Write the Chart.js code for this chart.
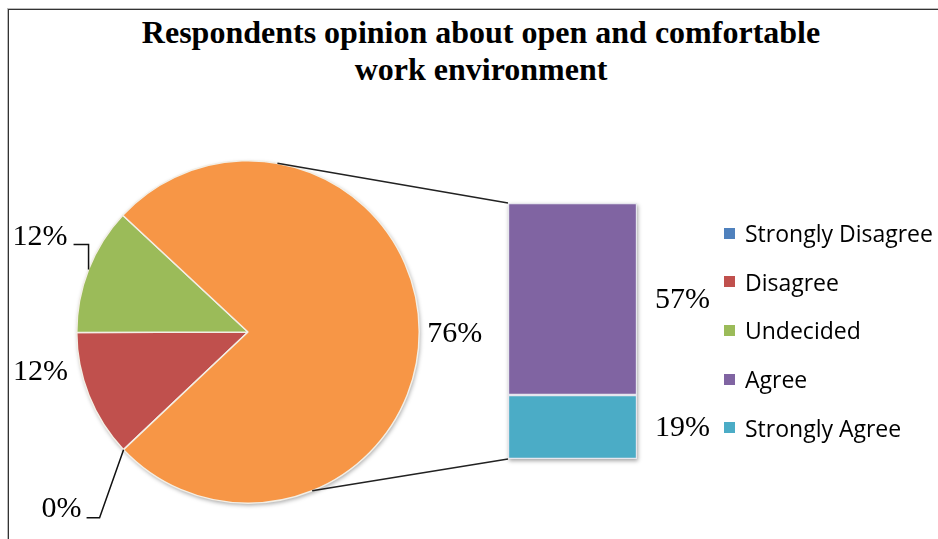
<!DOCTYPE html>
<html>
<head>
<meta charset="utf-8">
<script src="https://cdn.jsdelivr.net/npm/chart.js@4.4.0/dist/chart.umd.min.js"></script>
<style>
  html, body { margin: 0; padding: 0; background: #fff; }
  body { width: 938px; height: 539px; position: relative; overflow: hidden; }
  #frame { position: absolute; left: 8px; top: 9px; width: 1000px; height: 600px; border-left: 1px solid #333; border-top: 1px solid #333; box-shadow: -1px -1px 0 #bbb; }
  #title { position: absolute; left: 0; top: 14px; width: 962px; text-align: center; font: bold 32px "Liberation Serif", serif; line-height: 37px; color: #000; }
  canvas { position: absolute; left: 0; top: 0; }
  #legend { position: absolute; left: 724px; top: 0; font: 23px "Open Sans", sans-serif; color: #000; }
  .item { position: absolute; left: 0; height: 28px; display: flex; align-items: center; white-space: nowrap; }
  .sw { width: 11px; height: 11px; margin-right: 10px; }
</style>
</head>
<body>
<div id="frame"></div>
<div id="title">Respondents opinion about open and comfortable<br>work environment</div>
<canvas id="pie" width="938" height="539"></canvas>
<canvas id="bar" width="938" height="539"></canvas>
<div id="legend"></div>
<script>
var categories = ['Strongly Disagree', 'Disagree', 'Undecided', 'Agree', 'Strongly Agree'];
var shares = [0, 12, 12, 57, 19];
var sliceColors = ['#4F81BD', '#C0504D', '#9BBB59', '#8064A2', '#4BACC6'];
var otherColor = '#F79646';
var secondPlotCount = 2; // last two values are split out into the bar

function sum(arr) {
  return arr.reduce(function (a, b) { return a + b; }, 0);
}

var firstCount = categories.length - secondPlotCount;
var barLabels = categories.slice(firstCount);
var barValues = shares.slice(firstCount);
var barColors = sliceColors.slice(firstCount);
var pieLabels = categories.slice(0, firstCount).concat(['Other']);
var pieValues = shares.slice(0, firstCount).concat([sum(barValues)]);
var pieColors = sliceColors.slice(0, firstCount).concat([otherColor]);

// label placement relative to the point on the rim at each slice's mid angle
var pieLabelStyle = [
  { leader: [[0, 0], [-24, 68], [-37, 68]], text: [-42, 67], align: 'right' },
  { leader: null, text: [-21, -16], align: 'right' },
  { leader: [[0, 0], [0, -25], [-15, -25]], text: [-21, -25], align: 'right' },
  { leader: null, text: [8, 11], align: 'left' }
];
var labelFont = '30px "Liberation Serif", serif';

// legend
var legend = document.getElementById('legend');
categories.forEach(function (name, i) {
  var item = document.createElement('div');
  item.className = 'item';
  item.style.top = (233 + i * 48.7 - 14) + 'px';
  item.innerHTML = '<span class="sw" style="background:' + sliceColors[i] + '"></span>' + name;
  legend.appendChild(item);
});

var pieShadow = {
  id: 'pieShadow',
  beforeDatasetsDraw: function (chart) {
    var a = chart.getDatasetMeta(0).data[0];
    var ctx = chart.ctx;
    ctx.save();
    ctx.shadowColor = 'rgba(0,0,0,0.35)';
    ctx.shadowBlur = 4;
    ctx.shadowOffsetX = 1;
    ctx.shadowOffsetY = 2;
    ctx.fillStyle = '#ccc';
    ctx.beginPath();
    ctx.arc(a.x, a.y, a.outerRadius, 0, Math.PI * 2);
    ctx.fill();
    ctx.restore();
  }
};

var pieValueLabels = {
  id: 'pieValueLabels',
  afterDatasetsDraw: function (chart) {
    var ctx = chart.ctx;
    var arcs = chart.getDatasetMeta(0).data;
    ctx.save();
    ctx.font = labelFont;
    ctx.fillStyle = '#000';
    ctx.strokeStyle = '#111';
    ctx.lineWidth = 1.5;
    ctx.textBaseline = 'alphabetic';
    arcs.forEach(function (arc, i) {
      var st = pieLabelStyle[i];
      var mid = (arc.startAngle + arc.endAngle) / 2;
      var px = arc.x + arc.outerRadius * Math.cos(mid);
      var py = arc.y + arc.outerRadius * Math.sin(mid);
      if (st.leader) {
        ctx.beginPath();
        st.leader.forEach(function (p, k) {
          if (k === 0) ctx.moveTo(px + p[0], py + p[1]);
          else ctx.lineTo(px + p[0], py + p[1]);
        });
        ctx.stroke();
      }
      ctx.textAlign = st.align;
      ctx.fillText(pieValues[i] + '%', px + st.text[0], py + st.text[1]);
    });
    ctx.restore();
  }
};

var pieChart = new Chart(document.getElementById('pie'), {
  type: 'pie',
  data: {
    labels: pieLabels,
    datasets: [{
      data: pieValues,
      backgroundColor: pieColors,
      borderColor: '#f3efe6',
      borderWidth: 1.5,
      hoverOffset: 0
    }]
  },
  options: {
    responsive: false,
    animation: false,
    events: [],
    rotation: 226.6,
    layout: { padding: { left: 76, top: 160, right: 518, bottom: 35 } },
    plugins: { legend: { display: false }, tooltip: { enabled: false } }
  },
  plugins: [pieShadow, pieValueLabels]
});

// bottom segment first so it stacks underneath
var stackOrder = barLabels.map(function (_, i) { return i; }).reverse();

var barExtras = {
  id: 'barExtras',
  beforeDatasetsDraw: function (chart) {
    var ctx = chart.ctx;
    var area = chart.chartArea;
    ctx.save();
    ctx.shadowColor = 'rgba(0,0,0,0.35)';
    ctx.shadowBlur = 4;
    ctx.shadowOffsetX = 1;
    ctx.shadowOffsetY = 2;
    ctx.fillStyle = '#ddd';
    ctx.fillRect(area.left, area.top, area.right - area.left, area.bottom - area.top);
    ctx.restore();
  },
  afterDatasetsDraw: function (chart) {
    var ctx = chart.ctx;
    ctx.save();
    // connectors from the pie rim to the bar corners
    var arc = pieChart.getDatasetMeta(0).data[0];
    var topBar = chart.getDatasetMeta(stackOrder.length - 1).data[0];
    var bottomBar = chart.getDatasetMeta(0).data[0];
    var topAng = -80.1 * Math.PI / 180;
    var botAng = 68 * Math.PI / 180;
    ctx.strokeStyle = '#222';
    ctx.lineWidth = 1.5;
    ctx.beginPath();
    ctx.moveTo(arc.x + arc.outerRadius * Math.cos(topAng), arc.y + arc.outerRadius * Math.sin(topAng));
    ctx.lineTo(topBar.x - topBar.width / 2, topBar.y);
    ctx.moveTo(arc.x + arc.outerRadius * Math.cos(botAng), arc.y + arc.outerRadius * Math.sin(botAng));
    ctx.lineTo(bottomBar.x - bottomBar.width / 2, bottomBar.base);
    ctx.stroke();
    // value labels
    ctx.font = labelFont;
    ctx.fillStyle = '#000';
    ctx.textAlign = 'left';
    ctx.textBaseline = 'middle';
    chart.data.datasets.forEach(function (ds, d) {
      var el = chart.getDatasetMeta(d).data[0];
      ctx.fillText(ds.data[0] + '%', el.x + el.width / 2 + 18, (el.y + el.base) / 2 + 1);
    });
    ctx.restore();
  }
};

var barChart = new Chart(document.getElementById('bar'), {
  type: 'bar',
  data: {
    labels: [''],
    datasets: stackOrder.map(function (i) {
      return {
        label: barLabels[i],
        data: [barValues[i]],
        backgroundColor: barColors[i],
        borderColor: '#e6e6ee',
        borderWidth: 1.5,
        borderSkipped: false,
        barPercentage: 1,
        categoryPercentage: 1
      };
    })
  },
  options: {
    responsive: false,
    animation: false,
    events: [],
    layout: { padding: { left: 508, top: 203, right: 301, bottom: 80 } },
    scales: {
      x: { stacked: true, display: false },
      y: { stacked: true, display: false, min: 0, max: sum(barValues) }
    },
    plugins: { legend: { display: false }, tooltip: { enabled: false } }
  },
  plugins: [barExtras]
});
</script>
</body>
</html>
